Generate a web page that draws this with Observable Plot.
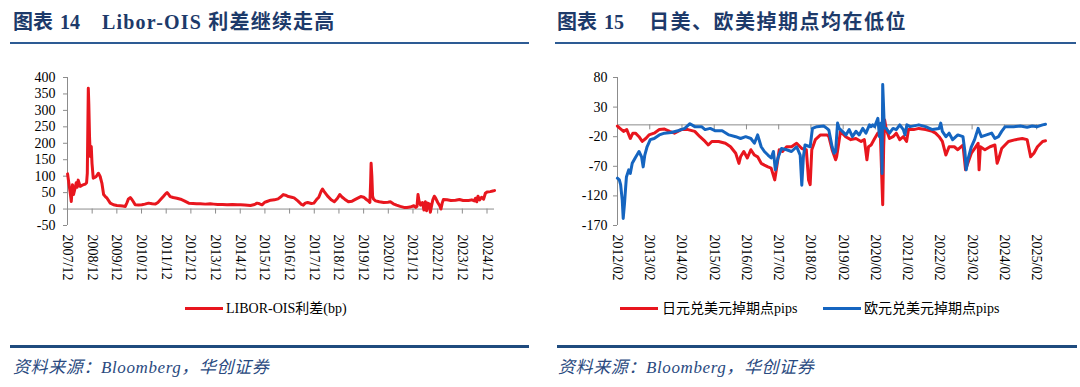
<!DOCTYPE html>
<html><head><meta charset="utf-8">
<script src="https://cdn.jsdelivr.net/npm/d3@7"></script>
<script src="https://cdn.jsdelivr.net/npm/@observablehq/plot@0.6"></script>
<style>
body{margin:0;width:1080px;height:387px;background:#fff;position:relative;overflow:hidden;font-family:"Liberation Serif","Noto Sans CJK SC",serif;}
.abs{position:absolute;}
.title{top:9px;font-size:20px;font-weight:bold;color:#1d3a6a;white-space:nowrap;line-height:26px;}
.rule{top:42px;height:2px;background:#2d5b94;}
.brule{top:345px;height:3px;background:#1f4b7e;}
.src{top:356px;font-size:17px;font-style:italic;color:#2a4a80;white-space:nowrap;line-height:24px;letter-spacing:0.6px;}
.lg{top:300px;font-size:14px;white-space:nowrap;line-height:18px;color:#000;}
.sw{position:absolute;top:307px;width:38px;height:3px;}
</style></head><body>
<div class="abs title" style="left:13px">图表<span style="margin-left:7px">14</span><span style="margin-left:22px;letter-spacing:1.2px">Libor-OIS 利差继续走高</span></div>
<div class="abs title" style="left:557px">图表<span style="margin-left:7px">15</span><span style="margin-left:25px;letter-spacing:1.5px">日美、欧美掉期点均在低位</span></div>
<div class="abs rule" style="left:10px;width:519px"></div>
<div class="abs rule" style="left:555px;width:521px"></div>
<div class="abs" id="c1" style="left:0;top:60px"></div>
<div class="abs" id="c2" style="left:540px;top:60px"></div>
<div class="sw" style="left:185px;background:#e8161e"></div>
<div class="abs lg" style="left:226px">LIBOR-OIS利差(bp)</div>
<div class="sw" style="left:620px;background:#e8161e"></div>
<div class="abs lg" style="left:662px">日元兑美元掉期点pips</div>
<div class="sw" style="left:823px;background:#1565c0"></div>
<div class="abs lg" style="left:864px">欧元兑美元掉期点pips</div>
<div class="abs brule" style="left:10px;width:519px"></div>
<div class="abs brule" style="left:557px;width:520px"></div>
<div class="abs src" style="left:13px">资料来源：Bloomberg，华创证券</div>
<div class="abs src" style="left:558px">资料来源：Bloomberg，华创证券</div>
<script>
// ---- Chart 14: LIBOR-OIS spread (bp) ----
const liborDates = [2007.92,2007.97,2008.03,2008.07,2008.12,2008.16,2008.23,2008.27,2008.31,2008.35,2008.43,2008.50,2008.57,2008.64,2008.69,2008.72,2008.76,2008.78,2008.81,2008.84,2008.88,2008.91,2008.96,2009.02,2009.08,2009.17,2009.24,2009.31,2009.38,2009.45,2009.52,2009.65,2009.78,2009.92,2010.05,2010.15,2010.26,2010.33,2010.38,2010.46,2010.52,2010.58,2010.66,2010.80,2010.93,2011.05,2011.20,2011.35,2011.48,2011.58,2011.68,2011.80,2011.90,2011.95,2012.02,2012.08,2012.20,2012.35,2012.50,2012.65,2012.83,2013.00,2013.15,2013.30,2013.50,2013.70,2013.84,2014.00,2014.20,2014.38,2014.60,2014.80,2014.93,2015.10,2015.33,2015.50,2015.60,2015.70,2015.80,2015.90,2016.00,2016.15,2016.30,2016.45,2016.58,2016.66,2016.75,2016.87,2017.00,2017.10,2017.25,2017.40,2017.47,2017.55,2017.65,2017.80,2017.90,2018.00,2018.10,2018.20,2018.25,2018.32,2018.45,2018.60,2018.73,2018.85,2018.95,2019.05,2019.15,2019.30,2019.45,2019.60,2019.70,2019.80,2019.92,2020.03,2020.12,2020.17,2020.20,2020.22,2020.25,2020.28,2020.32,2020.40,2020.55,2020.73,2020.90,2021.00,2021.12,2021.25,2021.40,2021.55,2021.67,2021.80,2021.95,2022.03,2022.08,2022.12,2022.16,2022.22,2022.30,2022.36,2022.42,2022.47,2022.52,2022.58,2022.62,2022.67,2022.72,2022.78,2022.83,2022.92,2023.00,2023.05,2023.10,2023.15,2023.30,2023.45,2023.64,2023.80,2023.95,2024.17,2024.30,2024.40,2024.45,2024.50,2024.55,2024.62,2024.70,2024.78,2024.85,2024.92,2025.05,2025.15,2025.22];
const liborValues = [107,79,48,23,74,44,65,80,66,88,69,72,74,76,80,109,367,321,220,160,190,139,94,96,99,109,99,79,44,38,33,18,13,11,10,9,8,20,30,35,30,23,13,12,13,15,18,16,15,20,28,38,47,50,44,38,35,33,30,25,18,17,16,16,15,16,15,14,14,13,14,13,13,12,11,14,18,16,13,20,23,27,28,31,38,44,42,38,36,34,25,14,12,18,20,17,18,28,36,55,61,53,40,28,22,32,44,36,30,22,24,30,34,38,36,29,24,20,80,139,100,39,30,25,22,20,21,22,16,12,8,5,5,6,10,5,8,44,25,12,20,-3,22,-5,18,15,-10,10,28,39,34,20,10,0,18,29,28,26,27,29,26,26,28,25,33,22,39,28,36,30,48,52,53,55,56];
const liborYTicks = [-50,0,50,100,150,200,250,300,350,400];
const liborXLabels = ["2007/12","2008/12","2009/12","2010/12","2011/12","2012/12","2013/12","2014/12","2015/12","2016/12","2017/12","2018/12","2019/12","2020/12","2021/12","2022/12","2023/12","2024/12"];

// ---- Chart 15: JPY / EUR vs USD swap points (pips) ----
const jpyDates = [2012.08,2012.16,2012.27,2012.37,2012.48,2012.56,2012.64,2012.75,2012.85,2012.96,2013.06,2013.22,2013.38,2013.54,2013.70,2013.85,2014.06,2014.27,2014.48,2014.64,2014.80,2014.90,2015.01,2015.22,2015.43,2015.59,2015.75,2015.85,2015.90,2016.00,2016.11,2016.22,2016.33,2016.43,2016.54,2016.64,2016.75,2016.85,2016.96,2017.01,2017.10,2017.20,2017.33,2017.48,2017.64,2017.80,2017.94,2018.01,2018.06,2018.11,2018.22,2018.38,2018.59,2018.64,2018.74,2018.85,2018.88,2018.93,2019.00,2019.16,2019.32,2019.48,2019.64,2019.74,2019.82,2019.87,2019.95,2020.06,2020.16,2020.24,2020.28,2020.31,2020.34,2020.37,2020.42,2020.52,2020.63,2020.73,2020.84,2020.95,2021.05,2021.11,2021.27,2021.43,2021.64,2021.85,2021.95,2022.06,2022.16,2022.27,2022.37,2022.53,2022.64,2022.80,2022.88,2022.95,2023.06,2023.16,2023.27,2023.30,2023.34,2023.48,2023.64,2023.79,2023.86,2023.90,2024.00,2024.21,2024.43,2024.64,2024.79,2024.90,2025.00,2025.11,2025.27,2025.36];
const jpyValues = [-2,-6,-11,-8,-23,-14,-14,-20,-28,-23,-17,-14,-8,-7,-11,-14,-8,-8,-11,-20,-28,-34,-28,-28,-31,-37,-48,-65,-54,-45,-56,-42,-51,-54,-65,-68,-71,-73,-93,-76,-42,-45,-37,-37,-31,-40,-42,-93,-101,-42,-25,-17,-17,-20,-42,-59,-54,-37,-11,-20,-25,-23,-28,-25,-59,-37,-34,-23,-14,-20,-87,-135,-37,8,-8,-23,-20,-14,-25,-20,-28,-8,-8,-6,-8,-11,-14,-20,-28,-51,-37,-37,-42,-34,-76,-65,-48,-40,-31,-76,-37,-42,-37,-34,-65,-59,-40,-28,-25,-23,-25,-54,-48,-37,-28,-27];
const eurDates = [2012.08,2012.14,2012.18,2012.23,2012.26,2012.30,2012.33,2012.36,2012.43,2012.48,2012.54,2012.64,2012.75,2012.83,2012.88,2012.93,2013.00,2013.10,2013.22,2013.38,2013.54,2013.75,2013.96,2014.17,2014.33,2014.48,2014.69,2014.80,2014.96,2015.12,2015.33,2015.54,2015.75,2015.90,2016.06,2016.22,2016.33,2016.43,2016.54,2016.64,2016.75,2016.85,2016.92,2016.98,2017.06,2017.17,2017.33,2017.48,2017.64,2017.75,2017.80,2017.85,2017.90,2018.06,2018.13,2018.27,2018.48,2018.58,2018.64,2018.74,2018.80,2018.85,2018.88,2018.91,2018.96,2019.06,2019.17,2019.27,2019.37,2019.48,2019.58,2019.69,2019.79,2019.90,2019.95,2020.00,2020.06,2020.16,2020.21,2020.26,2020.29,2020.31,2020.33,2020.36,2020.42,2020.52,2020.63,2020.73,2020.84,2020.95,2021.00,2021.06,2021.16,2021.43,2021.64,2021.85,2022.06,2022.11,2022.16,2022.27,2022.37,2022.48,2022.64,2022.80,2022.86,2022.90,2022.95,2023.06,2023.16,2023.27,2023.37,2023.53,2023.69,2023.79,2023.90,2024.00,2024.11,2024.37,2024.58,2024.79,2024.95,2025.11,2025.27,2025.36];
const eurValues = [-90,-93,-101,-127,-158,-133,-110,-88,-76,-82,-65,-55,-45,-54,-71,-51,-37,-25,-23,-17,-14,-13,-10,-6,2,-3,-3,-8,-6,-10,-10,-17,-20,-23,-20,-23,-31,-17,-37,-45,-51,-56,-45,-76,-56,-40,-42,-45,-37,-51,-102,-54,-34,-37,-6,-3,-2,-6,-9,-37,-48,-45,-20,3,-6,-11,-17,-8,-20,-11,-17,-6,-14,0,-3,0,-3,11,-20,3,-82,68,40,-5,-6,-14,-6,-8,0,-8,-17,0,-3,0,-3,-8,-6,3,-11,-20,-14,-25,-17,-20,-45,-76,-59,-37,-25,-6,-20,-17,-14,-23,-20,-11,-3,-3,-2,-4,-2,-3,0,1];
const swapYTicks = [-170,-120,-70,-20,30,80];
const swapXLabels = ["2012/02","2013/02","2014/02","2015/02","2016/02","2017/02","2018/02","2019/02","2020/02","2021/02","2022/02","2023/02","2024/02","2025/02"];

const toYear = s => { const [y, m] = s.split("/").map(Number); return y + (m - 1) / 12; };
const zip = (t, v) => t.map((d, i) => ({t: d, v: v[i]}));
const AX = "#8c8c8c";
const RED = "#e8161e", BLUE = "#1565c0";

function chart({w, mL, mR, xDomain, yDomain, yTicks, xLabels, series, yPad}) {
  const xt = xLabels.map(toYear);
  return Plot.plot({
    width: w, height: 245,
    marginTop: 17, marginBottom: 80, marginLeft: mL, marginRight: mR,
    x: {domain: xDomain, label: null},
    y: {domain: yDomain, label: null},
    style: {fontFamily: "Liberation Serif, serif", fontSize: "14px", color: "#000", background: "transparent"},
    marks: [
      Plot.ruleY([0], {stroke: AX, strokeWidth: 1}),
      Plot.ruleX(xt, {x: d => d, y1: 0, y2: 0, insetBottom: -5, stroke: AX}),
      Plot.ruleX([xDomain[0]], {y1: yDomain[0], y2: yDomain[1], stroke: AX}),
      Plot.axisY({ticks: yTicks, tickSize: 4, tickPadding: yPad, stroke: AX, fill: "#000", fontSize: 14, label: null, tickFormat: d => String(d)}),
      Plot.axisX({ticks: xt, tickFormat: (d, i) => xLabels[i], tickRotate: 90, tickSize: 0, tickPadding: 9, fill: "#000", fontSize: 14, label: null}),
      ...series.map(s => Plot.line(s.data, {x: "t", y: "v", stroke: s.color, strokeWidth: 3, strokeLinejoin: "round"}))
    ]
  });
}

document.getElementById("c1").append(chart({
  w: 530, mL: 67, mR: 36, xDomain: [2007.917, 2025.22], yDomain: [-50, 400],
  yTicks: liborYTicks, xLabels: liborXLabels, yPad: 8,
  series: [{data: zip(liborDates, liborValues), color: RED}]
}));
document.getElementById("c2").append(chart({
  w: 540, mL: 77, mR: 35, xDomain: [2012.083, 2025.36], yDomain: [-170, 80],
  yTicks: swapYTicks, xLabels: swapXLabels, yPad: 6,
  series: [{data: zip(jpyDates, jpyValues), color: RED}, {data: zip(eurDates, eurValues), color: BLUE}]
}));
</script>
</body></html>
